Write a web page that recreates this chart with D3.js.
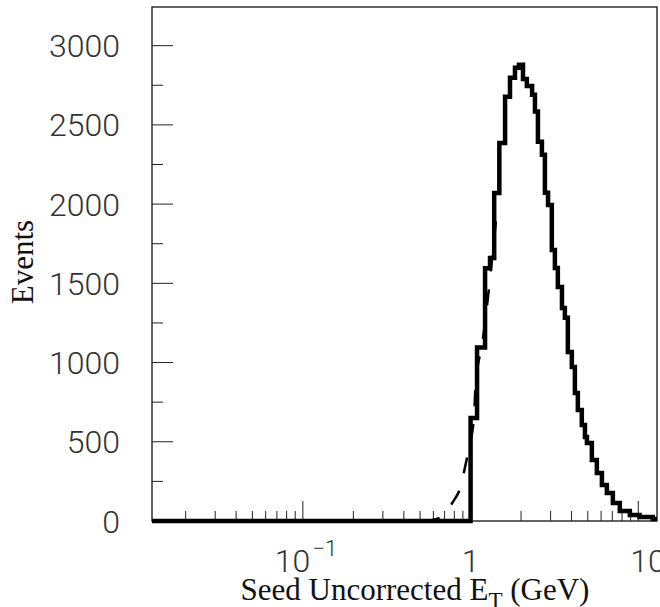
<!DOCTYPE html>
<html>
<head>
<meta charset="utf-8">
<script src="https://cdn.jsdelivr.net/npm/d3@7"></script>
<style>
  body { margin: 0; background: #fff; }
  svg { display: block; }
</style>
</head>
<body>
<div class="chart"></div>
<script>
// histogram bin edges (GeV) and contents
var etEdges = [0.0126, 1.0, 1.093, 1.22, 1.306, 1.383, 1.484, 1.606, 1.718, 1.84, 1.942,
  2.054, 2.165, 2.328, 2.42, 2.521, 2.663, 2.775, 2.897, 3.05, 3.182, 3.314, 3.507,
  3.65, 3.802, 4.016, 4.188, 4.361, 4.605, 4.808, 4.941, 5.286, 5.662, 6.069, 6.496,
  7.055, 7.757, 8.905, 10.17, 12.2, 12.7];
var counts = [0, 650, 1095, 1595, 1660, 2070, 2386, 2677, 2797, 2860, 2880,
  2790, 2745, 2690, 2585, 2393, 2311, 2071, 1995, 1711, 1597, 1477, 1345,
  1282, 1067, 972, 808, 701, 606, 530, 492, 385, 303, 227, 177,
  114, 63, 38, 25, 12];

// dashed curve
var dashX = [0.0126, 0.54, 0.6, 0.658, 0.784, 0.866, 0.927, 0.98, 1.049, 1.07, 1.18, 1.418];
var dashY = [0, 0, 8, 22, 120, 208, 341, 467, 657, 852, 1136, 1900];

var yTicks = [0, 500, 1000, 1500, 2000, 2500, 3000];
var yMinor = [250, 750, 1250, 1750, 2250, 2750];
var xMajor = [0.1, 1, 10];
var xMinor = [0.02, 0.03, 0.04, 0.05, 0.06, 0.07, 0.08, 0.09,
  0.2, 0.3, 0.4, 0.5, 0.6, 0.7, 0.8, 0.9, 2, 3, 4, 5, 6, 7, 8, 9];

(function() {
var W = 660, H = 607;
var pL = 152, pR = 657, pT = 7, pB = 521;

var svg = d3.select(".chart").append("svg")
  .attr("width", W).attr("height", H);

var x = d3.scaleLog().domain([0.0126, 12.93]).range([pL, pR]);
var y = d3.scaleLinear().domain([0, 3244]).range([pB, pT]);

svg.append("clipPath").attr("id", "frame")
  .append("rect").attr("x", pL).attr("y", pT - 3)
  .attr("width", pR - pL).attr("height", pB - pT + 6);

// ticks (inside the frame)
var tk = svg.append("g").attr("stroke", "#222").attr("stroke-width", 1);
tk.selectAll(".ymaj").data(yTicks).enter().append("line")
  .attr("x1", pL).attr("x2", pL + 21)
  .attr("y1", function(d) { return y(d); }).attr("y2", function(d) { return y(d); });
tk.selectAll(".ymin").data(yMinor).enter().append("line")
  .attr("x1", pL).attr("x2", pL + 11)
  .attr("y1", function(d) { return y(d); }).attr("y2", function(d) { return y(d); });
tk.selectAll(".xmaj").data(xMajor).enter().append("line")
  .attr("x1", function(d) { return x(d); }).attr("x2", function(d) { return x(d); })
  .attr("y1", pB).attr("y2", pB - 20);
tk.selectAll(".xmin").data(xMinor).enter().append("line")
  .attr("x1", function(d) { return x(d); }).attr("x2", function(d) { return x(d); })
  .attr("y1", pB).attr("y2", pB - 10);

// frame
svg.append("rect")
  .attr("x", pL).attr("y", pT)
  .attr("width", pR - pL).attr("height", pB - pT)
  .attr("fill", "none").attr("stroke", "#222").attr("stroke-width", 1.4);

var plot = svg.append("g").attr("clip-path", "url(#frame)");

// dashed curve
var dashPts = dashX.map(function(d, i) { return [d, dashY[i]]; });
plot.append("path")
  .datum(dashPts)
  .attr("fill", "none")
  .attr("stroke", "#000")
  .attr("stroke-width", 2.5)
  .attr("stroke-dasharray", "16,18")
  .attr("d", d3.line()
    .x(function(d) { return x(d[0]); })
    .y(function(d) { return y(d[1]); })
    .curve(d3.curveMonotoneX));

// step histogram
var histPts = [];
counts.forEach(function(c, i) {
  histPts.push([etEdges[i], c]);
  histPts.push([etEdges[i + 1], c]);
});
histPts.push([etEdges[etEdges.length - 1], 0]);
plot.append("path")
  .datum(histPts)
  .attr("fill", "none")
  .attr("stroke", "#000")
  .attr("stroke-width", 4.5)
  .attr("stroke-linejoin", "miter")
  .attr("d", d3.line()
    .x(function(d) { return x(d[0]); })
    .y(function(d) { return y(d[1]); }));

// y tick labels
var numFont = "Roboto, 'DejaVu Sans', sans-serif";
svg.selectAll(".ylab").data(yTicks).enter().append("text")
  .attr("x", 120)
  .attr("y", function(d) { return y(d); })
  .attr("dy", "0.36em")
  .attr("text-anchor", "end")
  .style("font-family", numFont)
  .style("font-weight", 300)
  .style("font-size", "32px")
  .attr("fill", "#333")
  .text(function(d) { return d; });

// x tick labels
var xl = svg.append("g")
  .style("font-family", numFont)
  .style("font-weight", 300)
  .style("font-size", "32px")
  .attr("fill", "#333");
var t1 = xl.append("text").attr("x", x(0.1) - 28).attr("y", 572);
t1.append("tspan").text("10");
t1.append("tspan").attr("dx", 2).attr("dy", -16).style("font-size", "22px").text("\u22121");
xl.append("text").attr("x", x(1)).attr("y", 572).attr("text-anchor", "middle").text("1");
xl.append("text").attr("x", x(10) - 8).attr("y", 572).text("10");

// axis titles
var serif = "'Liberation Serif', 'Times New Roman', serif";
var xt = svg.append("text")
  .attr("x", 415).attr("y", 600)
  .attr("text-anchor", "middle")
  .style("font-family", serif)
  .style("font-size", "31px")
  .attr("fill", "#111");
xt.append("tspan").text("Seed Uncorrected E");
xt.append("tspan").attr("dy", 8).style("font-size", "23px").text("T");
xt.append("tspan").attr("dy", -8).text(" (GeV)");

svg.append("text")
  .attr("transform", "translate(33,262) rotate(-90)")
  .attr("text-anchor", "middle")
  .style("font-family", serif)
  .style("font-size", "31px")
  .attr("fill", "#111")
  .text("Events");
})();
</script>
</body>
</html>
